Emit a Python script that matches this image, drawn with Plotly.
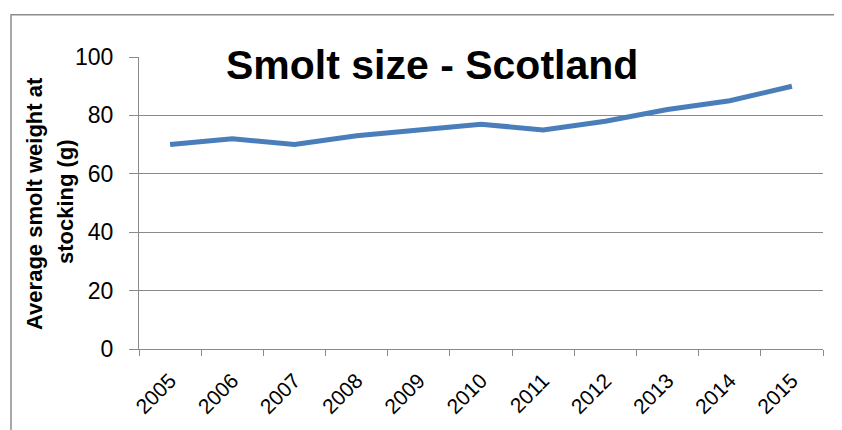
import plotly.graph_objects as go

years = ["2005", "2006", "2007", "2008", "2009", "2010", "2011", "2012", "2013", "2014", "2015"]
weights = [70, 72, 70, 73, 75, 77, 75, 78, 82, 85, 90]
y_ticks = [0, 20, 40, 60, 80, 100]

# page body has an 8px margin; compensate so page coordinates match
OFF = 8
W, H = 842 - OFF, 430 - OFF
L, T = 139 - OFF, 57 - OFF
R = 842 - 823
B = 69
pw, ph = W - L - R, H - T - B

def px_x(p):
    # p given in page pixels
    return (p - OFF - L) / pw

def px_y(p):
    return (H - B - (p - OFF)) / ph

FONT = "Liberation Sans"
GRID = "#8a8a8a"

fig = go.Figure()
fig.add_trace(go.Scatter(
    x=years, y=weights, mode="lines",
    line=dict(color="#4A7EBB", width=5),
    hoverinfo="x+y", showlegend=False,
))

fig.update_layout(
    width=W, height=H,
    margin=dict(l=L, r=R, t=T, b=B, pad=0),
    paper_bgcolor="white", plot_bgcolor="white",
    font=dict(family=FONT, color="black"),
    xaxis=dict(
        type="category", range=[-0.5, 10.5],
        tickson="boundaries", ticks="outside", ticklen=6, tickwidth=1.3, tickcolor=GRID,
        showline=True, linecolor=GRID, linewidth=1.3,
        showgrid=False, tickangle=-45,
        tickfont=dict(family=FONT, size=21, color="black"),
        ticklabelstandoff=10,
        zeroline=False,
    ),
    yaxis=dict(
        range=[0, 100], tickvals=y_ticks,
        ticks="outside", ticklen=9, tickwidth=1.3, tickcolor=GRID,
        showline=True, linecolor=GRID, linewidth=1.3,
        showgrid=True, gridcolor=GRID, gridwidth=1.3,
        tickfont=dict(family=FONT, size=23, color="black"),
        ticklabelstandoff=11,
        zeroline=False,
    ),
    shapes=[dict(
        type="rect", xref="paper", yref="paper",
        x0=px_x(11), x1=px_x(860), y0=px_y(450), y1=px_y(13),
        line=dict(color="#8c8c8c", width=1.5), fillcolor="rgba(0,0,0,0)",
        layer="below",
    )],
    annotations=[
        dict(
            text="<b>Smolt size - Scotland</b>", xref="paper", yref="paper",
            x=px_x(432), y=px_y(65), xanchor="center", yanchor="middle",
            showarrow=False, font=dict(family=FONT, size=41, color="black"),
        ),
        dict(
            text="<b>Average smolt weight at</b>", xref="paper", yref="paper",
            x=px_x(35), y=px_y(210), xanchor="center", yanchor="middle",
            textangle=-90, showarrow=False,
            font=dict(family=FONT, size=22, color="black"),
        ),
        dict(
            text="<b>stocking (g)</b>", xref="paper", yref="paper",
            x=px_x(65), y=px_y(208), xanchor="center", yanchor="middle",
            textangle=-90, showarrow=False,
            font=dict(family=FONT, size=22, color="black"),
        ),
    ],
)

fig.write_html("out.html")
